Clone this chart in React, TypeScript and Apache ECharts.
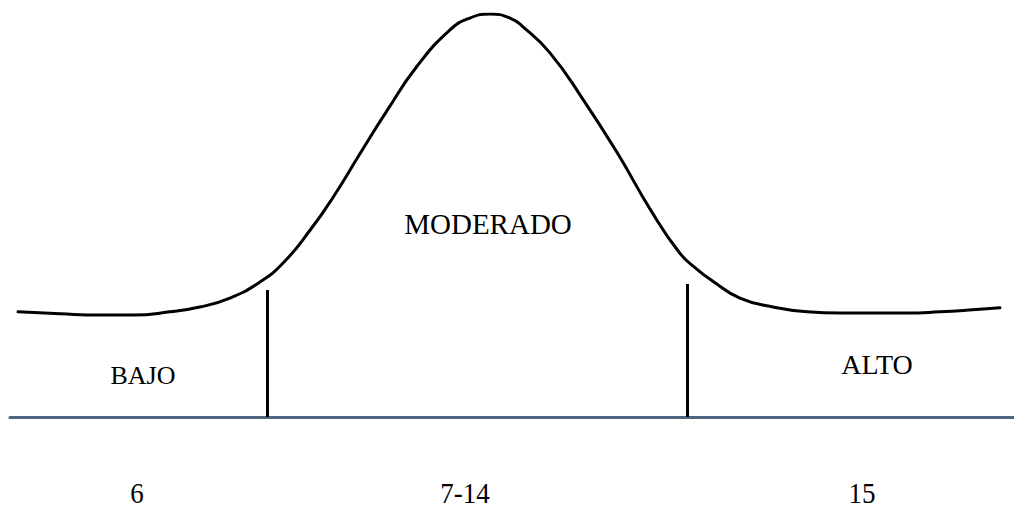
import React, { useEffect, useRef } from "react";
import * as echarts from "echarts";

// Bell curve (x: 0-100 across the baseline, y: 0 = baseline, 100 = peak)
const curveX = [0.8, 5.0, 9.0, 12.3, 15.9, 18.9, 21.9, 24.9, 27.2, 29.9, 32.2, 34.9, 37.6, 40.5, 43.8, 45.8, 47.8, 49.8, 51.1, 53.8, 57.1, 60.5, 63.8, 66.7, 68.4, 70.0, 72.7, 76.0, 79.4, 82.7, 86.0, 89.3, 92.6, 95.9, 98.6];
const curveY = [26.1, 25.6, 25.3, 25.3, 26.1, 27.3, 29.5, 33.5, 38.2, 46.4, 54.6, 65.5, 76.2, 86.9, 96.0, 99.0, 100, 99.0, 96.8, 90.3, 78.7, 65.5, 51.4, 40.7, 36.7, 33.7, 29.5, 27.3, 26.1, 25.8, 25.8, 25.8, 26.1, 26.6, 27.1];

// Cut-off markers (x position, height)
const cutX = [25.6, 67.5];
const cutTop = [31.5, 33.0];

// Zone names and score ranges
const zoneNames = ["BAJO", "MODERADO", "ALTO"];
const scoreLabels = ["6", "7-14", "15"];

export default function App() {
  const ref = useRef<HTMLDivElement>(null);
  useEffect(() => {
    if (!ref.current) return;
    const chart = echarts.init(ref.current, null, { renderer: "svg" });
    const data = curveX.map((x, i) => [x, curveY[i]]);
    const family = "\"Liberation Serif\", \"Times New Roman\", Times, \"DejaVu Serif\", serif";
    const zonePos = [
      { x: 143, y: 375, size: 26 },
      { x: 488, y: 224, size: 29 },
      { x: 877, y: 364, size: 28 },
    ];
    const scorePos = [137, 465, 862];
    chart.setOption({
      animation: false,
      backgroundColor: "#ffffff",
      grid: { left: 10, right: 0, top: 14, bottom: 92 },
      xAxis: {
        type: "value",
        min: 0,
        max: 100,
        axisLine: { show: true, lineStyle: { color: "#4f6580", width: 3 } },
        axisTick: { show: false },
        axisLabel: { show: false },
        splitLine: { show: false },
      },
      yAxis: {
        type: "value",
        min: 0,
        max: 100,
        show: false,
        splitLine: { show: false },
      },
      series: [
        {
          type: "line",
          data,
          smooth: 0.5,
          showSymbol: false,
          symbol: "none",
          lineStyle: { color: "#000000", width: 3, cap: "round", join: "round" },
          markLine: {
            silent: true,
            symbol: ["none", "none"],
            label: { show: false },
            lineStyle: { color: "#000000", width: 3, type: "solid" },
            data: cutX.map((x, i) => [
              { coord: [x, 0] },
              { coord: [x, cutTop[i]] },
            ]),
          },
        },
      ],
      graphic: [
        ...zoneNames.map((t, i) => ({
          type: "text",
          x: zonePos[i].x,
          y: zonePos[i].y,
          style: {
            text: t,
            fill: "#000000",
            fontFamily: family,
            fontSize: zonePos[i].size,
            textAlign: "center",
            textVerticalAlign: "middle",
          },
        })),
        ...scoreLabels.map((t, i) => ({
          type: "text",
          x: scorePos[i],
          y: 493,
          scaleX: 0.9,
          style: {
            text: t,
            fill: "#000000",
            fontFamily: family,
            fontSize: 30,
            textAlign: "center",
            textVerticalAlign: "middle",
          },
        })),
      ],
    });
    return () => chart.dispose();
  }, []);
  return (
    <div
      ref={ref}
      style={{ position: "absolute", left: 0, top: 0, width: 1014, height: 509, background: "#fff" }}
    />
  );
}
